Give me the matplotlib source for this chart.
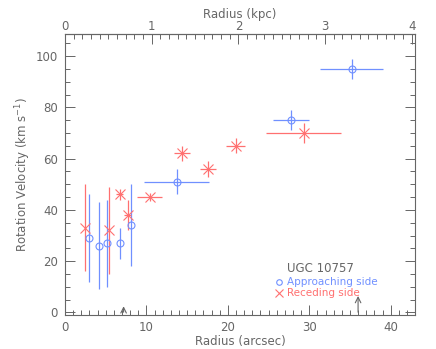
import matplotlib.pyplot as plt
from matplotlib.ticker import MultipleLocator, FixedLocator

# approaching side (blue circles)
app_r = [2.9, 4.2, 5.2, 6.7, 8.1, 13.7, 27.8, 35.2]
app_v = [29, 26, 27, 27, 34, 51, 75, 95]
app_rerr = [0, 0, 0, 0, 0, 4.0, 2.2, 3.9]
app_verr = [17, 17, 17, 6, 16, 5, 4, 4]

# receding side (red crosses)
rec_r = [2.4, 5.4, 6.7, 7.7, 10.4, 14.35, 17.6, 20.95, 29.3]
rec_v = [33, 32, 46, 38, 45, 62, 56, 65, 70]
rec_rerr = [0, 0, 0.45, 0.4, 1.5, 1.0, 1.0, 1.15, 4.65]
rec_verr = [17, 17, 2.3, 6, 1.5, 3, 3, 3, 4]

# arrows along the bottom axis
arrow_r = [7.2, 36.0]
arrow_h = [3.5, 7.5]

kpc_ticks = [0, 1, 2, 3, 4]

ARCSEC_PER_KPC = 10.65
GRAY = "#666666"
BLUE = "#7090ff"
RED = "#ff7070"


def main():
    plt.rcParams["font.family"] = "DejaVu Sans"
    fig = plt.figure(figsize=(4.36, 3.49), dpi=100)
    ax = fig.add_axes([0.149, 0.0974, 0.803, 0.8052])

    ax.errorbar(app_r, app_v, xerr=app_rerr, yerr=app_verr, fmt="o", ms=5,
                mfc="none", mec=BLUE, ecolor=BLUE, elinewidth=0.9, mew=0.8,
                capsize=0, zorder=3)
    ax.errorbar(rec_r, rec_v, xerr=rec_rerr, yerr=rec_verr, fmt="x", ms=7,
                mec=RED, ecolor=RED, elinewidth=0.9, mew=0.8,
                capsize=0, zorder=3)

    for r, h in zip(arrow_r, arrow_h):
        ax.annotate("", xy=(r, h), xytext=(r, -1),
                    arrowprops=dict(arrowstyle="->", color=GRAY, lw=0.8))

    ax.set_xlim(0, 43)
    ax.set_ylim(-1, 108.6)
    ax.xaxis.set_major_locator(MultipleLocator(10))
    ax.xaxis.set_minor_locator(MultipleLocator(1))
    ax.yaxis.set_major_locator(MultipleLocator(20))
    ax.yaxis.set_minor_locator(MultipleLocator(5))
    ax.tick_params(which="both", direction="in", colors=GRAY, labelcolor=GRAY,
                   labelsize=8.5, right=True, top=False, width=0.7)
    ax.tick_params(which="major", length=7)
    ax.tick_params(axis="x", which="major", pad=4)
    ax.tick_params(axis="y", which="major", pad=5)
    ax.tick_params(which="minor", length=3.5)
    for s in ax.spines.values():
        s.set_color(GRAY)
        s.set_linewidth(0.8)

    top = ax.secondary_xaxis("top", functions=(lambda x: x / ARCSEC_PER_KPC,
                                                lambda k: k * ARCSEC_PER_KPC))
    top.xaxis.set_major_locator(FixedLocator(kpc_ticks))
    top.xaxis.set_minor_locator(MultipleLocator(0.1))
    top.tick_params(which="both", direction="in", colors=GRAY, labelcolor=GRAY,
                    labelsize=8.5, width=0.7)
    top.tick_params(which="major", length=7, pad=0.5)
    top.tick_params(which="minor", length=3.5)
    top.spines["top"].set_color(GRAY)
    top.set_xlabel("Radius (kpc)", color=GRAY, fontsize=8.5, labelpad=2)

    ax.set_xlabel("Radius (arcsec)", color=GRAY, fontsize=8.5, labelpad=1)
    ax.set_ylabel("Rotation Velocity (km s$^{-1}$)", color=GRAY, fontsize=8.5,
                  labelpad=2)

    ax.text(0.634, 0.167, "UGC 10757", transform=ax.transAxes, color=GRAY,
            fontsize=8.5, va="center")
    ax.plot([0.611], [0.117], "o", ms=4, mfc="none", mec=BLUE, mew=0.8,
            transform=ax.transAxes)
    ax.text(0.634, 0.117, "Approaching side", transform=ax.transAxes,
            color=BLUE, fontsize=7.5, va="center")
    ax.plot([0.611], [0.078], "x", ms=6, mec=RED, mew=0.8,
            transform=ax.transAxes)
    ax.text(0.634, 0.078, "Receding side", transform=ax.transAxes, color=RED,
            fontsize=7.5, va="center")

    fig.savefig("out.png", dpi=100)


if __name__ == "__main__":
    main()
